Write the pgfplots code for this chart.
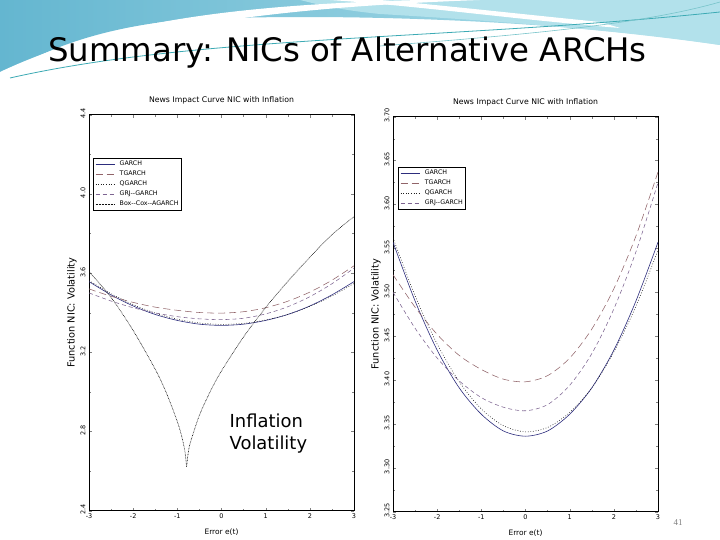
\documentclass[border=0pt]{standalone}
\usepackage{pgfplots}
\pgfplotsset{compat=1.18}
\usepackage{fontspec}
\setmainfont{DejaVu Sans}
\newfontfamily\chartfont{DejaVu Sans}
\newfontfamily\numfont{Liberation Serif}
\definecolor{garchc}{RGB}{45,45,125}
\definecolor{tgarchc}{RGB}{145,100,105}
\definecolor{qgarchc}{RGB}{30,30,30}
\definecolor{grjc}{RGB}{125,100,145}
\definecolor{boxc}{RGB}{15,15,15}
\definecolor{bluedeco}{RGB}{100,182,208}
\definecolor{lightdeco}{RGB}{178,225,235}
\definecolor{tealline}{RGB}{60,170,180}

\pgfplotsset{
  nicaxis/.style={
    scale only axis, width=265bp, anchor=south west,
    xmin=-3, xmax=3, xtick={-3,...,3}, minor x tick num=1,
    minor y tick num=1,
    tick align=inside, major tick length=3bp, minor tick length=2bp,
    axis line style={line width=0.8pt},
    tick label style={font=\chartfont\fontsize{6.5}{7}\selectfont},
    xticklabel style={yshift=0.5bp},
    /pgf/number format/assume math mode=true,
    yticklabel style={rotate=90, anchor=south, xshift=1bp},
    title={News Impact Curve NIC with Inflation},
    title style={font=\chartfont\fontsize{7.8}{9}\selectfont, yshift=1bp},
    xlabel={Error e(t)},
    xlabel style={font=\chartfont\fontsize{7.5}{8}\selectfont, yshift=-3bp},
    ylabel={Function NIC: Volatility},
    ylabel style={font=\chartfont\fontsize{9.8}{10}\selectfont, yshift=-3bp},
    legend cell align=left,
    legend style={font=\chartfont\fontsize{6.3}{7}\selectfont, draw=black,
      inner sep=1.8bp, row sep=2bp, anchor=north west,
      nodes={inner sep=0.9bp, text height=4.8bp, text depth=1.4bp},
      /tikz/every odd column/.append style={column sep=4bp}},
    legend image code/.code={\draw[#1] (0bp,0bp) -- (19bp,0bp);},
  },
  garch/.style={color=garchc, line width=0.6pt, smooth},
  tgarch/.style={color=tgarchc, line width=0.55pt, dash pattern=on 7bp off 4bp, smooth},
  qgarch/.style={color=qgarchc, line width=0.55pt, dash pattern=on 0.8bp off 1.8bp, smooth},
  grj/.style={color=grjc, line width=0.55pt, dash pattern=on 4bp off 3bp, smooth},
  boxcox/.style={color=boxc, line width=0.6pt, dash pattern=on 0.7bp off 0.8bp, smooth},
}

\pgfplotstableread{
x y
-3 3.557
-2.5 3.490
-2 3.434
-1.5 3.391
-1 3.361
-0.5 3.342
0 3.336
0.5 3.342
1 3.361
1.5 3.391
2 3.434
2.5 3.490
3 3.557
}\garchdata
\pgfplotstableread{
x y
-3 3.520
-2.5 3.483
-2 3.452
-1.5 3.428
-1 3.412
-0.5 3.401
0 3.398
0.5 3.405
1 3.425
1.5 3.458
2 3.504
2.5 3.564
3 3.637
}\tgarchdata
\pgfplotstableread{
x y
-3 3.562
-2.5 3.496
-2 3.441
-1.5 3.398
-1 3.367
-0.5 3.348
0 3.341
0.5 3.346
1 3.363
1.5 3.391
2 3.432
2.5 3.484
3 3.548
}\qgarchdata
\pgfplotstableread{
x y
-3 3.500
-2.5 3.459
-2 3.425
-1.5 3.399
-1 3.380
-0.5 3.369
0 3.365
0.5 3.372
1 3.394
1.5 3.430
2 3.481
2.5 3.546
3 3.625
}\grjdata
\pgfplotstableread{
x y
-3 3.607
-2.5 3.477
-2 3.310
-1.5 3.114
-1.25 2.996
-1 2.850
-0.9 2.774
-0.83 2.702
-0.79 2.622
}\boxleft
\pgfplotstableread{
x y
-0.79 2.622
-0.75 2.698
-0.7 2.748
-0.5 2.882
-0.25 3.004
0 3.106
0.5 3.278
1 3.426
1.5 3.558
2 3.680
2.5 3.794
3 3.885
}\boxright

\begin{document}
\begin{tikzpicture}
\begin{scope}[x=1bp,y=1bp]
\useasboundingbox (0,0) rectangle (720,540);
\fill[white] (0,0) rectangle (720,540);
% decoration
\shade[left color=bluedeco, right color=lightdeco] (0,540) -- (720,540) -- (720,495) .. controls (560,520) and (330,528) .. (180,520) .. controls (100,512) and (40,490) .. (0,462) -- cycle;
\fill[lightdeco] (300,540) -- (720,540) -- (720,495) .. controls (600,512) and (480,520) .. (380,526) .. controls (340,530) and (320,535) .. (300,540) -- cycle;
\fill[white] (0,468) .. controls (100,515) and (220,535) .. (420,540) -- (480,540) .. controls (260,532) and (110,510) .. (0,456) -- cycle;
\fill[white] (330,540) .. controls (420,534) and (520,520) .. (620,512) -- (600,518) .. controls (520,526) and (430,536) .. (380,540) -- cycle;
\draw[tealline, line width=0.8pt] (10,462) .. controls (200,505) and (450,500) .. (720,528);
\draw[tealline!70, line width=0.6pt] (380,494) .. controls (520,505) and (640,515) .. (720,538);
\node[anchor=base west, inner sep=0, font=\fontsize{32.5}{38}\selectfont] at (48,478) {Summary: NICs of Alternative ARCHs};
\node[anchor=center, font=\numfont\fontsize{9}{10}\selectfont, text=gray] at (678,17) {41};
\end{scope}

\begin{axis}[nicaxis, at={(89bp,29.3bp)}, height=396bp,
  ymin=2.4, ymax=4.4, ytick={2.4,2.8,...,4.4},
  yticklabel style={/pgf/number format/.cd, fixed, fixed zerofill, precision=1},
  legend style={at={(0.016,0.89)}}]
\addplot[garch] table {\garchdata};
\addlegendentry{GARCH}
\addplot[tgarch] table {\tgarchdata};
\addlegendentry{TGARCH}
\addplot[qgarch] table {\qgarchdata};
\addlegendentry{QGARCH}
\addplot[grj] table {\grjdata};
\addlegendentry{GRJ--GARCH}
\addplot[boxcox] table {\boxleft};
\addlegendentry{Box--Cox--AGARCH}
\addplot[boxcox, forget plot] table {\boxright};
\node[anchor=north west, align=left, inner sep=0, font=\fontsize{18}{21.7}\selectfont] at (rel axis cs:0.53,0.245) {Inflation\\Volatility};
\end{axis}

\begin{axis}[nicaxis, at={(393bp,28.3bp)}, height=395bp,
  ymin=3.25, ymax=3.70, ytick={3.25,3.30,...,3.71},
  yticklabel style={/pgf/number format/.cd, fixed, fixed zerofill, precision=2},
  legend style={at={(0.02,0.872)}}]
\addplot[garch] table {\garchdata};
\addlegendentry{GARCH}
\addplot[tgarch] table {\tgarchdata};
\addlegendentry{TGARCH}
\addplot[qgarch] table {\qgarchdata};
\addlegendentry{QGARCH}
\addplot[grj] table {\grjdata};
\addlegendentry{GRJ--GARCH}
\end{axis}
\end{tikzpicture}
\end{document}
